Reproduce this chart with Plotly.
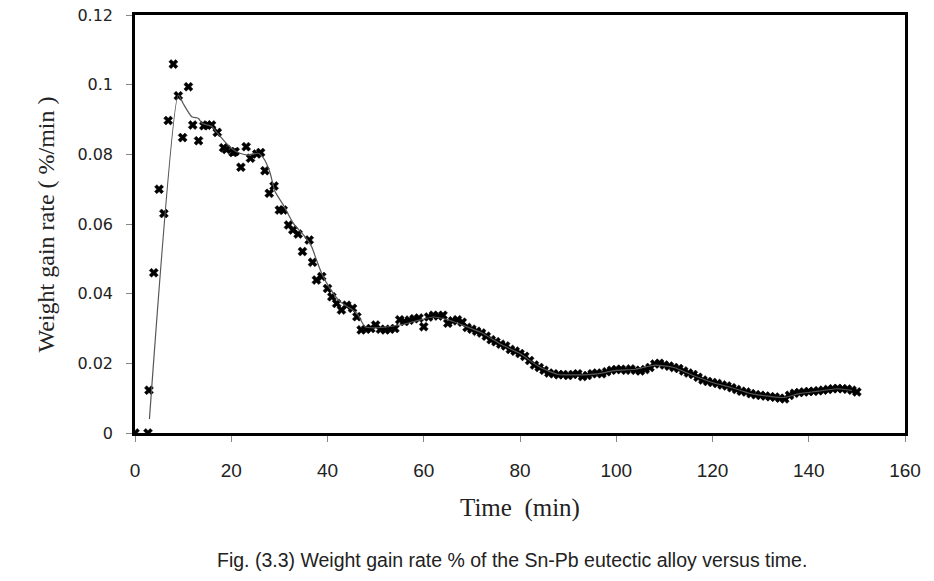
import plotly.graph_objects as go

# Measured points (time in min, weight gain rate in %/min)
t_early = [0, 2.7, 2.9, 3.9, 5.0, 6.0, 6.9, 7.97, 9.0, 9.9, 11.1, 12.0, 13.2, 14.3, 15.0, 15.9,
           17.1, 18.4, 19.0, 20.4, 20.8, 22.0, 23.1, 24.0, 25.3, 26.1, 27.0, 27.9, 28.9, 30.0,
           30.8, 31.9, 32.8, 33.9, 34.8, 36.2, 36.9, 37.7, 38.8, 40.0, 40.9, 41.9, 42.9, 44.0,
           45.2, 46.1]
v_early = [0, 0, 0.0123, 0.046, 0.070, 0.063, 0.0897, 0.1059, 0.0968, 0.0848, 0.0994, 0.0884,
           0.0839, 0.0882, 0.0884, 0.0884, 0.0863, 0.0819, 0.0814, 0.0805, 0.0808, 0.0763,
           0.0822, 0.0789, 0.0801, 0.0805, 0.0753, 0.0688, 0.0709, 0.064, 0.064, 0.0597,
           0.0583, 0.0571, 0.0521, 0.0554, 0.049, 0.0439, 0.0449, 0.0415, 0.0391, 0.0372,
           0.0353, 0.0367, 0.0358, 0.0334]

t_late = list(range(47, 151))
v_late = [0.0296, 0.0298, 0.0300, 0.0310, 0.0298, 0.0296, 0.0298, 0.0300, 0.0325, 0.0320,
          0.0324, 0.0328, 0.0330, 0.0305, 0.0333, 0.0338, 0.0336, 0.0338, 0.0315, 0.0322,
          0.0325, 0.0318, 0.0303, 0.0298, 0.0292, 0.0287, 0.0278, 0.0268, 0.0262, 0.0255,
          0.0250, 0.0240, 0.0235, 0.0228, 0.0220, 0.0208, 0.0195, 0.0188, 0.0180, 0.0172,
          0.0170, 0.0167, 0.0168, 0.0165, 0.0168, 0.0170, 0.0162, 0.0165, 0.0170, 0.0172,
          0.0170, 0.0176, 0.0180, 0.0182, 0.0183, 0.0180, 0.0184, 0.0180, 0.0178, 0.0182,
          0.0188, 0.0198, 0.0200, 0.0195, 0.0192, 0.0188, 0.0185, 0.0178, 0.0172, 0.0168,
          0.0160, 0.0152, 0.0148, 0.0145, 0.0142, 0.0138, 0.0135, 0.0130, 0.0125, 0.0120,
          0.0118, 0.0113, 0.0110, 0.0108, 0.0106, 0.0104, 0.0103, 0.0100, 0.0098, 0.0108,
          0.0114, 0.0116, 0.0118, 0.0119, 0.0120, 0.0121, 0.0123, 0.0125, 0.0127, 0.0128,
          0.0127, 0.0126, 0.0123, 0.0118]

# Smoothed trend line
t_trend = [3, 9, 10, 11.8, 13.2, 13.9, 16, 17, 18.7, 20.1, 21.8, 23.5, 25.6, 26.7, 28, 29.1,
           30.8, 32.9, 35.3, 36.7, 37.7, 38.8, 40.5, 42.6, 44.7, 46.1, 47.8, 50, 55, 58, 62,
           65, 68, 72, 76, 80, 84, 88, 92, 96, 100, 104, 108, 112, 116, 120, 124, 128, 132,
           135, 138, 142, 146, 149]
v_trend = [0.004, 0.097, 0.0946, 0.0908, 0.0903, 0.0889, 0.088, 0.0863, 0.0836, 0.0817, 0.0803,
           0.0798, 0.0803, 0.0789, 0.075, 0.0693, 0.0655, 0.0602, 0.0564, 0.0535, 0.0497,
           0.0458, 0.0415, 0.0377, 0.0358, 0.0344, 0.0305, 0.0302, 0.031, 0.032, 0.0333,
           0.0325, 0.031, 0.0288, 0.0255, 0.0228, 0.019, 0.0168, 0.0167, 0.017, 0.018, 0.0183,
           0.0195, 0.0188, 0.0165, 0.0145, 0.013, 0.0113, 0.0105, 0.0102, 0.0113, 0.012,
           0.0127, 0.0122]

x_ticks = [0, 20, 40, 60, 80, 100, 120, 140, 160]
y_ticks = [0, 0.02, 0.04, 0.06, 0.08, 0.1, 0.12]
y_tick_text = ["0", "0.02", "0.04", "0.06", "0.08", "0.1", "0.12"]

fig = go.Figure()
fig.add_trace(go.Scatter(
    x=t_early + t_late, y=v_early + v_late, mode="markers",
    marker=dict(symbol="x", size=8, color="black", line=dict(width=0.5, color="black")),
    showlegend=False,
))
fig.add_trace(go.Scatter(
    x=t_trend, y=v_trend, mode="lines",
    line=dict(color="#555555", width=1.2, shape="spline", smoothing=0.6),
    showlegend=False,
))

# page has an 8px body margin, so the figure is sized/offset to compensate
fig.update_layout(
    width=918, height=565,
    margin=dict(l=127, r=21, t=7, b=140),
    paper_bgcolor="white", plot_bgcolor="white",
    font=dict(family="DejaVu Sans", color="#222222"),
    xaxis=dict(
        range=[0, 160], tickvals=x_ticks, ticks="outside", ticklen=6,
        tickcolor="#888888", showgrid=False, zeroline=False, automargin=False,
        showline=True, linecolor="black", linewidth=2.5, mirror=True,
        tickfont=dict(family="Liberation Sans Narrow, Arial Narrow, Liberation Sans, sans-serif",
                      size=19, color="#222222"),
        ticklabelstandoff=12, ticklabeloverflow="allow",
    ),
    yaxis=dict(
        range=[0, 0.12], tickvals=y_ticks, ticktext=y_tick_text, ticks="outside",
        ticklen=6, tickcolor="#888888", showgrid=False, zeroline=False, automargin=False,
        showline=True, linecolor="black", linewidth=2.5, mirror=True,
        tickfont=dict(family="DejaVu Sans", size=16, color="#222222"),
        ticklabelstandoff=10, ticklabeloverflow="allow",
    ),
    annotations=[
        dict(text="Weight gain rate ( %/min )", xref="paper", yref="paper",
             x=-0.115, y=0.5, xanchor="center", yanchor="middle", textangle=-90,
             showarrow=False,
             font=dict(family="Liberation Serif", size=24, color="#222222")),
        dict(text="Time  (min)", xref="paper", yref="paper",
             x=0.5, y=-0.179, xanchor="center", yanchor="middle", showarrow=False,
             font=dict(family="Liberation Serif", size=25, color="#222222")),
        dict(text="Fig. (3.3) Weight gain rate % of the Sn-Pb eutectic alloy versus time.",
             xref="paper", yref="paper", x=0.49, y=-0.305, xanchor="center",
             yanchor="middle", showarrow=False,
             font=dict(family="Liberation Sans Narrow, Arial Narrow, Liberation Sans, sans-serif",
                       size=19.5, color="#222222")),
    ],
)

fig.write_html("out.html")
